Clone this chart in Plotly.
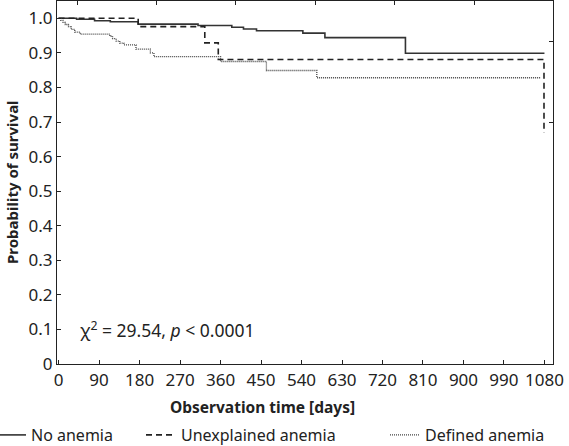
import plotly.graph_objects as go

# ---- data ----
no_days = [0, 40, 80, 115, 177, 310, 385, 411, 440, 543, 592, 771, 1080]
no_surv = [1.0, 0.997, 0.993, 0.99, 0.983, 0.979, 0.974, 0.969, 0.964, 0.957, 0.944, 0.899, 0.899]

un_days = [0, 177, 325, 355, 1079]
un_surv = [1.0, 0.976, 0.929, 0.881, 0.668]

de_days = [0, 5, 10, 15, 22, 28, 36, 48, 114, 120, 128, 136, 145, 172, 204, 212, 360, 462, 574, 1072]
de_surv = [1.0, 0.994, 0.988, 0.982, 0.976, 0.968, 0.96, 0.954, 0.948, 0.941, 0.934, 0.928, 0.923,
           0.911, 0.9, 0.889, 0.875, 0.849, 0.828, 0.828]

x_ticks = list(range(0, 1081, 90))
y_ticks = [0, 0.1, 0.2, 0.3, 0.4, 0.5, 0.6, 0.7, 0.8, 0.9, 1.0]
y_ticktext = ["0", "0.1", "0.2", "0.3", "0.4", "0.5", "0.6", "0.7", "0.8", "0.9", "1.0"]

FONT = "Noto Sans"
XR = [-3.5, 1099]
YR = [0, 1.05]

fig = go.Figure()
fig.add_trace(go.Scatter(x=no_days, y=no_surv, mode="lines", line_shape="hv", name="No anemia",
                         line=dict(color="#333333", width=1.6), legend="legend"))
fig.add_trace(go.Scatter(x=un_days, y=un_surv, mode="lines", line_shape="hv", name="Unexplained anemia",
                         line=dict(color="#222222", width=1.6, dash="6px,4px"), legend="legend2"))
fig.add_trace(go.Scatter(x=de_days, y=de_surv, mode="lines", line_shape="hv", name="Defined anemia",
                         line=dict(color="#444444", width=1.3, dash="1px,1px"), legend="legend3"))
# invisible helper trace so the top/right frame axes exist
fig.add_trace(go.Scatter(x=[XR[0]], y=[YR[0]], xaxis="x2", yaxis="y2", mode="markers",
                         marker=dict(opacity=0), showlegend=False, hoverinfo="skip"))

axis_common = dict(showgrid=False, zeroline=False, showline=True, linecolor="#222222", linewidth=1.2,
                   ticks="inside", ticklen=4, tickcolor="#222222", automargin=False,
                   tickfont=dict(family=FONT, size=17, color="#222222"))

leg_common = dict(xref="container", yref="container", yanchor="middle", xanchor="left",
                  font=dict(family=FONT, size=16), itemwidth=30, bgcolor="rgba(0,0,0,0)")

fig.update_layout(
    width=569, height=446,
    margin=dict(l=57, r=16, t=1, b=82, autoexpand=False),
    paper_bgcolor="white", plot_bgcolor="white",
    font=dict(family=FONT, size=16, color="#222222"),
    xaxis=dict(range=XR, tickvals=x_ticks, anchor="y", **axis_common),
    yaxis=dict(range=YR, tickvals=y_ticks, ticktext=y_ticktext, anchor="x", **axis_common),
    xaxis2=dict(range=XR, overlaying="x", side="top", anchor="y2", tick0=41, dtick=176.5,
                showticklabels=False, **axis_common),
    yaxis2=dict(range=YR, overlaying="y", side="right", anchor="x2", tickvals=[0.7, 0.934],
                showticklabels=False, **axis_common),
    legend=dict(x=0, y=1 - 435 / 446, indentation=-9, **leg_common),
    legend2=dict(x=141 / 569, y=1 - 435 / 446, **leg_common),
    legend3=dict(x=385 / 569, y=1 - 435 / 446, **leg_common),
    annotations=[
        dict(text="<b>Observation time [days]</b>", xref="paper", yref="paper",
             x=(262 - 57) / 496, y=(364 - 407) / 363, xanchor="center", yanchor="middle",
             showarrow=False, font=dict(family=FONT, size=15.5)),
        dict(text="<b>Probability of survival</b>", xref="paper", yref="paper",
             x=(12 - 57) / 496, y=(364 - 182) / 363, xanchor="center", yanchor="middle",
             textangle=-90, showarrow=False, font=dict(family=FONT, size=15)),
        dict(text="χ<sup>2</sup> = 29.54, <i>p</i> &lt; 0.0001", xref="x", yref="y",
             x=43, y=0.1, xanchor="left", yanchor="middle", showarrow=False,
             font=dict(family=FONT, size=17.5)),
    ],
)

fig.write_html("out.html", config={"displayModeBar": False},
               post_script="document.body.style.margin='0';")
